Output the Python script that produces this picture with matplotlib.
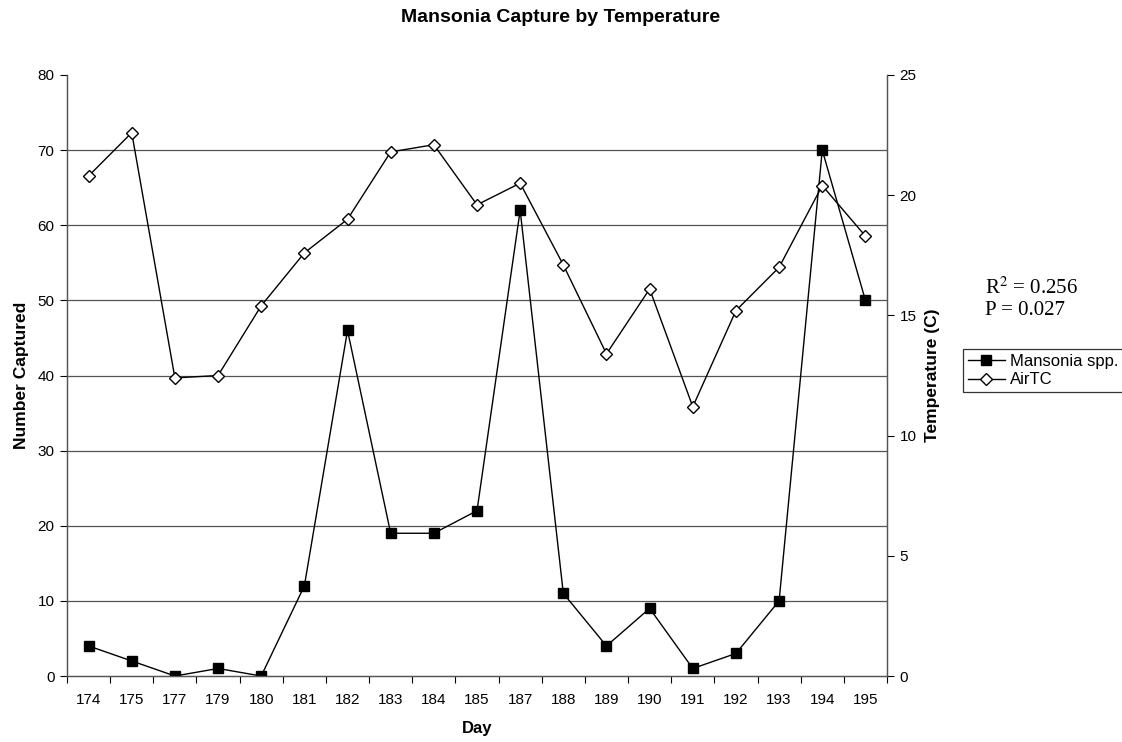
import matplotlib
matplotlib.use("Agg")
import matplotlib.pyplot as plt
from matplotlib.ticker import MultipleLocator, FixedLocator, NullFormatter

plt.rcParams['font.family'] = ['Liberation Sans', 'DejaVu Sans']

days = ["174", "175", "177", "179", "180", "181", "182", "183", "184", "185",
        "187", "188", "189", "190", "191", "192", "193", "194", "195"]
mansonia = [4, 2, 0, 1, 0, 12, 46, 19, 19, 22, 62, 11, 4, 9, 1, 3, 10, 70, 50]
air_tc = [20.8, 22.6, 12.4, 12.5, 15.4, 17.6, 19.0, 21.8, 22.1, 19.6,
          20.5, 17.1, 13.4, 16.1, 11.2, 15.2, 17.0, 20.4, 18.3]

fig = plt.figure(figsize=(11.22, 7.42), dpi=100)
ax = fig.add_axes([67/1122, 66/742, 820/1122, 601/742])
ax2 = ax.twinx()

x = list(range(len(days)))
l1, = ax.plot(x, mansonia, color='black', lw=1, marker='s', markersize=7,
              markerfacecolor='black', markeredgecolor='black', label='Mansonia spp.', zorder=3)
l2, = ax2.plot(x, air_tc, color='black', lw=1, marker='D', markersize=6.5,
               markerfacecolor='white', markeredgecolor='black', markeredgewidth=1, label='AirTC', zorder=3)

ax.set_xlim(-0.5, len(days) - 0.5)
ax.set_ylim(0, 80)
ax2.set_ylim(0, 25)
ax.yaxis.set_major_locator(MultipleLocator(10))
ax2.yaxis.set_major_locator(MultipleLocator(5))

ax.set_xticks(x)
ax.set_xticklabels(days)
ax.xaxis.set_minor_locator(FixedLocator([i - 0.5 for i in range(len(days) + 1)]))
ax.xaxis.set_minor_formatter(NullFormatter())
ax.tick_params(axis='x', which='major', length=0, labelsize=11, pad=12)
ax.tick_params(axis='x', which='minor', length=5, width=0.8, direction='out')
ax.tick_params(axis='y', length=5, width=0.8, direction='out', labelsize=11, pad=4)
ax2.tick_params(axis='y', length=5, width=0.8, direction='out', labelsize=11, pad=4)

# horizontal gridlines (none at the top value)
for v in range(10, 80, 10):
    ax.axhline(v, color='#555555', lw=0.9, zorder=0)

for a in (ax, ax2):
    a.spines['top'].set_visible(False)
    for sp in a.spines.values():
        sp.set_color('#555555')
        sp.set_linewidth(0.9)

ax.set_xlabel('Day', fontweight='bold', fontsize=12, labelpad=10)
ax.set_ylabel('Number Captured', fontweight='bold', fontsize=12.5, labelpad=6)
ax2.set_ylabel('Temperature (C)', fontweight='bold', fontsize=12.5, labelpad=6)

fig.text(0.5, 1 - 17/742, 'Mansonia Capture by Temperature', ha='center', va='center',
         fontweight='bold', fontsize=14)

fig.text(985/1122, 1 - 288/742, r'R$^2$ = 0.256', ha='left', va='center',
         fontsize=15, family=['Liberation Serif', 'DejaVu Serif'],
         math_fontfamily='stix')
fig.text(985/1122, 1 - 310/742, 'P = 0.027', ha='left', va='center',
         fontsize=15, family=['Liberation Serif', 'DejaVu Serif'])

leg = fig.legend(handles=[l1, l2], loc='upper left', bbox_to_anchor=(963/1122, 1 - 349/742),
                 frameon=True, fancybox=False, edgecolor='black', fontsize=12,
                 handlelength=2.2, handletextpad=0.3, borderpad=0.3, labelspacing=0.2,
                 borderaxespad=0)
leg.get_frame().set_linewidth(0.9)

fig.savefig('out.png', dpi=100, facecolor='white')
